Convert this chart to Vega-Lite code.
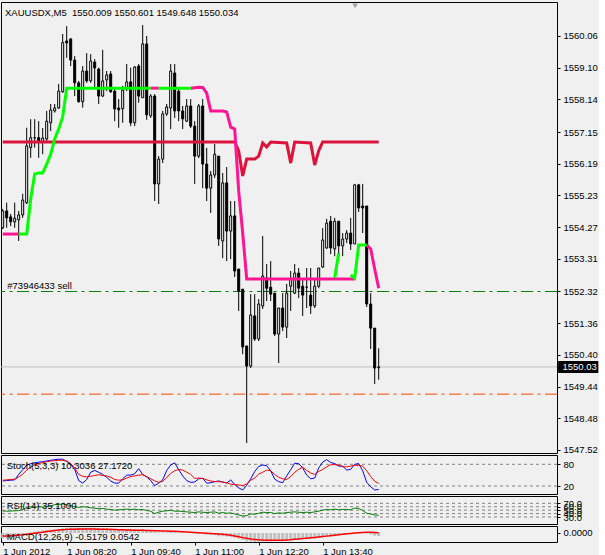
{
  "$schema": "https://vega.github.io/schema/vega-lite/v6.json",
  "padding": {"left": -4, "top": 1, "right": 0, "bottom": 0},
  "bounds": "flush",
  "spacing": 2,
  "background": "#f0f0f0",
  "datasets": {
    "candles": [
      {"i":0,"o":1554.25,"h":1554.82,"l":1554.21,"c":1554.76},
      {"i":1,"o":1554.76,"h":1555.01,"l":1554.25,"c":1554.55},
      {"i":2,"o":1554.58,"h":1554.67,"l":1554.30,"c":1554.43},
      {"i":3,"o":1554.43,"h":1555.01,"l":1554.25,"c":1554.54},
      {"i":4,"o":1554.49,"h":1554.76,"l":1553.85,"c":1554.64},
      {"i":5,"o":1554.64,"h":1555.28,"l":1554.55,"c":1555.09},
      {"i":6,"o":1555.01,"h":1557.28,"l":1554.97,"c":1556.73},
      {"i":7,"o":1556.68,"h":1557.54,"l":1556.37,"c":1556.98},
      {"i":8,"o":1556.97,"h":1557.54,"l":1556.68,"c":1556.98},
      {"i":9,"o":1556.98,"h":1557.48,"l":1556.37,"c":1556.88},
      {"i":10,"o":1556.83,"h":1557.27,"l":1556.48,"c":1556.97},
      {"i":11,"o":1556.94,"h":1557.79,"l":1556.88,"c":1557.48},
      {"i":12,"o":1557.43,"h":1558.00,"l":1557.18,"c":1557.82},
      {"i":13,"o":1557.79,"h":1558.00,"l":1557.74,"c":1557.88},
      {"i":14,"o":1557.88,"h":1558.61,"l":1557.85,"c":1558.39},
      {"i":15,"o":1558.37,"h":1560.12,"l":1558.34,"c":1559.86},
      {"i":16,"o":1559.91,"h":1560.36,"l":1559.40,"c":1559.85},
      {"i":17,"o":1559.97,"h":1560.00,"l":1559.15,"c":1559.33},
      {"i":18,"o":1559.33,"h":1559.45,"l":1558.24,"c":1558.64},
      {"i":19,"o":1558.64,"h":1558.70,"l":1558.04,"c":1558.07},
      {"i":20,"o":1558.07,"h":1559.15,"l":1557.89,"c":1559.00},
      {"i":21,"o":1559.00,"h":1559.54,"l":1558.64,"c":1558.70},
      {"i":22,"o":1558.70,"h":1559.51,"l":1558.64,"c":1559.30},
      {"i":23,"o":1559.27,"h":1559.36,"l":1558.49,"c":1559.09},
      {"i":24,"o":1559.06,"h":1559.10,"l":1558.00,"c":1558.24},
      {"i":25,"o":1558.24,"h":1559.64,"l":1558.21,"c":1558.70},
      {"i":26,"o":1558.73,"h":1559.00,"l":1558.39,"c":1558.88},
      {"i":27,"o":1558.91,"h":1559.00,"l":1558.34,"c":1558.37},
      {"i":28,"o":1558.39,"h":1558.49,"l":1557.48,"c":1557.85},
      {"i":29,"o":1557.88,"h":1558.15,"l":1557.28,"c":1557.82},
      {"i":30,"o":1557.86,"h":1558.55,"l":1557.43,"c":1558.42},
      {"i":31,"o":1558.45,"h":1559.21,"l":1558.39,"c":1558.67},
      {"i":32,"o":1558.67,"h":1559.10,"l":1557.33,"c":1557.43},
      {"i":33,"o":1557.43,"h":1559.15,"l":1557.33,"c":1559.12},
      {"i":34,"o":1559.15,"h":1559.21,"l":1558.04,"c":1558.24},
      {"i":35,"o":1558.19,"h":1560.39,"l":1558.18,"c":1559.82},
      {"i":36,"o":1559.82,"h":1560.06,"l":1557.52,"c":1557.67},
      {"i":37,"o":1557.64,"h":1558.30,"l":1557.58,"c":1558.24},
      {"i":38,"o":1558.24,"h":1558.30,"l":1555.06,"c":1555.58},
      {"i":39,"o":1555.58,"h":1556.42,"l":1554.97,"c":1556.33},
      {"i":40,"o":1556.33,"h":1557.79,"l":1556.21,"c":1557.70},
      {"i":41,"o":1557.70,"h":1558.00,"l":1557.64,"c":1557.91},
      {"i":42,"o":1557.88,"h":1559.21,"l":1557.24,"c":1559.00},
      {"i":43,"o":1558.94,"h":1559.21,"l":1557.58,"c":1557.79},
      {"i":44,"o":1558.39,"h":1558.48,"l":1557.48,"c":1557.79},
      {"i":45,"o":1557.79,"h":1557.94,"l":1557.24,"c":1557.55},
      {"i":46,"o":1557.48,"h":1558.15,"l":1557.45,"c":1557.94},
      {"i":47,"o":1557.94,"h":1558.15,"l":1557.27,"c":1557.33},
      {"i":48,"o":1557.33,"h":1557.48,"l":1555.58,"c":1556.42},
      {"i":49,"o":1556.42,"h":1558.00,"l":1556.36,"c":1557.94},
      {"i":50,"o":1557.94,"h":1558.15,"l":1555.45,"c":1556.18},
      {"i":51,"o":1556.18,"h":1556.67,"l":1555.06,"c":1555.45},
      {"i":52,"o":1555.45,"h":1555.97,"l":1554.70,"c":1555.85},
      {"i":53,"o":1555.85,"h":1556.79,"l":1555.76,"c":1556.48},
      {"i":54,"o":1556.42,"h":1556.42,"l":1553.70,"c":1553.91},
      {"i":55,"o":1553.85,"h":1555.91,"l":1553.33,"c":1555.61},
      {"i":56,"o":1555.61,"h":1556.09,"l":1553.24,"c":1554.15},
      {"i":57,"o":1554.15,"h":1555.06,"l":1553.30,"c":1554.61},
      {"i":58,"o":1554.61,"h":1555.06,"l":1552.76,"c":1552.94},
      {"i":59,"o":1553.00,"h":1553.00,"l":1551.73,"c":1552.33},
      {"i":60,"o":1552.39,"h":1552.39,"l":1550.42,"c":1550.64},
      {"i":61,"o":1550.67,"h":1550.67,"l":1547.73,"c":1550.06},
      {"i":62,"o":1550.06,"h":1552.24,"l":1550.00,"c":1551.61},
      {"i":63,"o":1551.58,"h":1552.24,"l":1550.82,"c":1550.88},
      {"i":64,"o":1550.88,"h":1552.09,"l":1550.82,"c":1551.94},
      {"i":65,"o":1551.88,"h":1554.00,"l":1551.79,"c":1552.79},
      {"i":66,"o":1552.73,"h":1553.15,"l":1552.03,"c":1552.42},
      {"i":67,"o":1552.45,"h":1553.24,"l":1552.03,"c":1552.24},
      {"i":68,"o":1552.27,"h":1552.27,"l":1550.97,"c":1551.03},
      {"i":69,"o":1551.03,"h":1551.82,"l":1550.15,"c":1551.82},
      {"i":70,"o":1551.82,"h":1552.27,"l":1551.12,"c":1551.24},
      {"i":71,"o":1551.24,"h":1552.55,"l":1550.91,"c":1552.27},
      {"i":72,"o":1552.48,"h":1552.94,"l":1551.73,"c":1552.70},
      {"i":73,"o":1552.27,"h":1553.15,"l":1552.24,"c":1552.88},
      {"i":74,"o":1552.88,"h":1553.03,"l":1552.12,"c":1552.42},
      {"i":75,"o":1552.48,"h":1552.73,"l":1551.58,"c":1552.21},
      {"i":76,"o":1552.45,"h":1553.03,"l":1551.82,"c":1552.45},
      {"i":77,"o":1552.21,"h":1553.03,"l":1551.64,"c":1551.88},
      {"i":78,"o":1551.88,"h":1552.73,"l":1551.82,"c":1552.48},
      {"i":79,"o":1552.48,"h":1553.03,"l":1552.42,"c":1553.03},
      {"i":80,"o":1553.06,"h":1554.24,"l":1553.03,"c":1553.88},
      {"i":81,"o":1553.64,"h":1554.52,"l":1553.61,"c":1554.39},
      {"i":82,"o":1554.45,"h":1554.61,"l":1553.45,"c":1553.64},
      {"i":83,"o":1553.61,"h":1554.55,"l":1553.39,"c":1554.45},
      {"i":84,"o":1554.45,"h":1554.45,"l":1553.33,"c":1553.70},
      {"i":85,"o":1553.70,"h":1554.09,"l":1553.39,"c":1553.91},
      {"i":86,"o":1553.91,"h":1554.18,"l":1553.79,"c":1554.09},
      {"i":87,"o":1554.09,"h":1554.55,"l":1553.58,"c":1553.76},
      {"i":88,"o":1553.76,"h":1555.58,"l":1553.76,"c":1555.55},
      {"i":89,"o":1555.55,"h":1555.58,"l":1554.73,"c":1554.85},
      {"i":90,"o":1554.91,"h":1555.58,"l":1554.09,"c":1554.85},
      {"i":91,"o":1554.91,"h":1554.91,"l":1551.85,"c":1551.94},
      {"i":92,"o":1551.94,"h":1552.27,"l":1550.58,"c":1551.21},
      {"i":93,"o":1551.21,"h":1551.21,"l":1549.52,"c":1550.00},
      {"i":94,"o":1550.009,"h":1550.601,"l":1549.648,"c":1550.034}
    ],
    "crimson": [
      {"i":0,"v":1556.85},{"i":58,"v":1556.85},{"i":59,"v":1556.58},{"i":60,"v":1555.82},
      {"i":61,"v":1556.33},{"i":63,"v":1556.33},{"i":64,"v":1556.42},{"i":65,"v":1556.82},
      {"i":66,"v":1556.70},{"i":67,"v":1556.85},{"i":71,"v":1556.82},{"i":72,"v":1556.21},
      {"i":73,"v":1556.85},{"i":77,"v":1556.82},{"i":78,"v":1556.15},{"i":79,"v":1556.58},
      {"i":80,"v":1556.85},{"i":94,"v":1556.85}
    ],
    "trend": [
      {"seg":"p1","col":"pink","i":0,"v":1554.06},{"seg":"p1","col":"pink","i":4,"v":1554.06},
      {"seg":"l1","col":"lime","i":4,"v":1554.06},{"seg":"l1","col":"lime","i":5,"v":1554.06},
      {"seg":"l1","col":"lime","i":6,"v":1554.06},{"seg":"l1","col":"lime","i":7,"v":1555.12},
      {"seg":"l1","col":"lime","i":8,"v":1555.88},{"seg":"l1","col":"lime","i":9,"v":1555.91},
      {"seg":"l1","col":"lime","i":10,"v":1555.91},{"seg":"l1","col":"lime","i":11,"v":1556.18},
      {"seg":"l1","col":"lime","i":12,"v":1556.48},{"seg":"l1","col":"lime","i":13,"v":1556.94},
      {"seg":"l1","col":"lime","i":14,"v":1557.24},{"seg":"l1","col":"lime","i":15,"v":1557.61},
      {"seg":"l1","col":"lime","i":16,"v":1558.48},{"seg":"l1","col":"lime","i":37,"v":1558.48},
      {"seg":"p2","col":"pink","i":37,"v":1558.48},{"seg":"p2","col":"pink","i":39,"v":1558.48},
      {"seg":"l2","col":"lime","i":39,"v":1558.48},{"seg":"l2","col":"lime","i":47,"v":1558.48},
      {"seg":"p3","col":"pink","i":47,"v":1558.48},{"seg":"p3","col":"pink","i":49,"v":1558.51},
      {"seg":"p3","col":"pink","i":50,"v":1558.50},{"seg":"p3","col":"pink","i":51,"v":1558.33},
      {"seg":"p3","col":"pink","i":52,"v":1557.79},{"seg":"p3","col":"pink","i":55,"v":1557.79},
      {"seg":"p3","col":"pink","i":56,"v":1557.76},{"seg":"p3","col":"pink","i":57,"v":1557.30},
      {"seg":"p3","col":"pink","i":58,"v":1557.24},{"seg":"p3","col":"pink","i":59,"v":1555.36},
      {"seg":"p3","col":"pink","i":60,"v":1554.09},{"seg":"p3","col":"pink","i":61,"v":1552.70},
      {"seg":"p3","col":"pink","i":88,"v":1552.70},
      {"seg":"l3","col":"lime","i":83,"v":1552.73},{"seg":"l3","col":"lime","i":84,"v":1553.48},
      {"seg":"l4","col":"lime","i":87,"v":1552.82},{"seg":"l4","col":"lime","i":88,"v":1552.73},
      {"seg":"l4","col":"lime","i":89,"v":1553.73},{"seg":"l4","col":"lime","i":91,"v":1553.73},
      {"seg":"p4","col":"pink","i":91,"v":1553.73},{"seg":"p4","col":"pink","i":92,"v":1553.61},
      {"seg":"p4","col":"pink","i":93,"v":1553.00},{"seg":"p4","col":"pink","i":94,"v":1552.42}
    ],
    "ind": [
      {"i":0,"k":34,"d":36,"r":47.5,"m":-0.9,"s":-0.52},
      {"i":1,"k":35,"d":37,"r":47,"m":-0.85,"s":-0.5},
      {"i":2,"k":36,"d":38,"r":47.5,"m":-0.8,"s":-0.46},
      {"i":3,"k":37,"d":39,"r":48,"m":-0.75,"s":-0.42},
      {"i":4,"k":52,"d":45,"r":49,"m":-0.6,"s":-0.36},
      {"i":5,"k":65,"d":53,"r":52,"m":-0.4,"s":-0.3},
      {"i":6,"k":77,"d":64,"r":58,"m":-0.1,"s":-0.22},
      {"i":7,"k":82,"d":72,"r":60,"m":0.1,"s":-0.14},
      {"i":8,"k":84,"d":78,"r":59,"m":0.25,"s":-0.06},
      {"i":9,"k":86,"d":82,"r":60,"m":0.35,"s":0.02},
      {"i":10,"k":87,"d":85,"r":59,"m":0.45,"s":0.12},
      {"i":11,"k":89,"d":87,"r":61,"m":0.5,"s":0.24},
      {"i":12,"k":91,"d":89,"r":62,"m":0.55,"s":0.34},
      {"i":13,"k":93,"d":90,"r":66,"m":0.6,"s":0.42},
      {"i":14,"k":94,"d":91,"r":67,"m":0.65,"s":0.5},
      {"i":15,"k":94,"d":91,"r":68,"m":0.8,"s":0.56},
      {"i":16,"k":88,"d":89,"r":66,"m":0.9,"s":0.62},
      {"i":17,"k":80,"d":82,"r":63,"m":0.95,"s":0.64},
      {"i":18,"k":66,"d":70,"r":60,"m":0.95,"s":0.66},
      {"i":19,"k":35,"d":52,"r":58,"m":0.9,"s":0.68},
      {"i":20,"k":28,"d":47,"r":60,"m":0.9,"s":0.68},
      {"i":21,"k":38,"d":45,"r":59,"m":0.9,"s":0.68},
      {"i":22,"k":58,"d":47,"r":57,"m":0.9,"s":0.68},
      {"i":23,"k":63,"d":49,"r":56,"m":0.9,"s":0.67},
      {"i":24,"k":58,"d":51,"r":54,"m":0.85,"s":0.66},
      {"i":25,"k":52,"d":49,"r":55,"m":0.82,"s":0.65},
      {"i":26,"k":44,"d":48,"r":53,"m":0.8,"s":0.63},
      {"i":27,"k":34,"d":44,"r":52,"m":0.78,"s":0.61},
      {"i":28,"k":28,"d":38,"r":50,"m":0.72,"s":0.59},
      {"i":29,"k":28,"d":36,"r":51,"m":0.66,"s":0.57},
      {"i":30,"k":40,"d":37,"r":52,"m":0.62,"s":0.55},
      {"i":31,"k":50,"d":42,"r":53,"m":0.62,"s":0.52},
      {"i":32,"k":50,"d":46,"r":52,"m":0.55,"s":0.5},
      {"i":33,"k":54,"d":48,"r":53,"m":0.58,"s":0.48},
      {"i":34,"k":68,"d":50,"r":51,"m":0.55,"s":0.46},
      {"i":35,"k":52,"d":51,"r":52,"m":0.62,"s":0.45},
      {"i":36,"k":45,"d":46,"r":49,"m":0.5,"s":0.44},
      {"i":37,"k":35,"d":40,"r":47,"m":0.45,"s":0.42},
      {"i":38,"k":21,"d":34,"r":40,"m":0.25,"s":0.4},
      {"i":39,"k":28,"d":30,"r":44,"m":0.15,"s":0.37},
      {"i":40,"k":37,"d":33,"r":47,"m":0.12,"s":0.35},
      {"i":41,"k":63,"d":43,"r":48,"m":0.12,"s":0.33},
      {"i":42,"k":78,"d":55,"r":50,"m":0.2,"s":0.31},
      {"i":43,"k":84,"d":62,"r":47,"m":0.18,"s":0.28},
      {"i":44,"k":65,"d":66,"r":47,"m":0.12,"s":0.25},
      {"i":45,"k":48,"d":64,"r":46,"m":0.08,"s":0.22},
      {"i":46,"k":35,"d":58,"r":45,"m":0.05,"s":0.18},
      {"i":47,"k":30,"d":52,"r":44,"m":0.0,"s":0.13},
      {"i":48,"k":31,"d":41,"r":43,"m":-0.08,"s":0.08},
      {"i":49,"k":40,"d":42,"r":45,"m":-0.06,"s":0.04},
      {"i":50,"k":41,"d":41,"r":44,"m":-0.15,"s":0.0},
      {"i":51,"k":28,"d":37,"r":43,"m":-0.28,"s":-0.04},
      {"i":52,"k":29,"d":34,"r":44,"m":-0.35,"s":-0.08},
      {"i":53,"k":32,"d":32,"r":45,"m":-0.35,"s":-0.12},
      {"i":54,"k":34,"d":32,"r":41,"m":-0.55,"s":-0.16},
      {"i":55,"k":31,"d":31,"r":43,"m":-0.55,"s":-0.22},
      {"i":56,"k":28,"d":29,"r":41,"m":-0.62,"s":-0.3},
      {"i":57,"k":37,"d":25,"r":42,"m":-0.65,"s":-0.4},
      {"i":58,"k":24,"d":24,"r":39,"m":-0.8,"s":-0.52},
      {"i":59,"k":15,"d":23,"r":36,"m":-0.95,"s":-0.66},
      {"i":60,"k":9,"d":21,"r":33,"m":-1.2,"s":-0.8},
      {"i":61,"k":22,"d":26,"r":34,"m":-1.45,"s":-0.92},
      {"i":62,"k":40,"d":36,"r":39,"m":-1.45,"s":-1.02},
      {"i":63,"k":60,"d":42,"r":38,"m":-1.5,"s":-1.1},
      {"i":64,"k":74,"d":53,"r":41,"m":-1.5,"s":-1.17},
      {"i":65,"k":78,"d":58,"r":44,"m":-1.45,"s":-1.22},
      {"i":66,"k":76,"d":64,"r":43,"m":-1.42,"s":-1.25},
      {"i":67,"k":62,"d":62,"r":43,"m":-1.4,"s":-1.27},
      {"i":68,"k":39,"d":52,"r":40,"m":-1.42,"s":-1.27},
      {"i":69,"k":32,"d":44,"r":42,"m":-1.4,"s":-1.26},
      {"i":70,"k":29,"d":40,"r":41,"m":-1.38,"s":-1.24},
      {"i":71,"k":48,"d":38,"r":43,"m":-1.3,"s":-1.2},
      {"i":72,"k":65,"d":46,"r":44,"m":-1.22,"s":-1.15},
      {"i":73,"k":83,"d":58,"r":45,"m":-1.15,"s":-1.08},
      {"i":74,"k":82,"d":66,"r":44,"m":-1.1,"s":-1.02},
      {"i":75,"k":70,"d":72,"r":43,"m":-1.05,"s":-0.96},
      {"i":76,"k":50,"d":63,"r":44,"m":-1.0,"s":-0.9},
      {"i":77,"k":40,"d":56,"r":43,"m":-0.98,"s":-0.84},
      {"i":78,"k":42,"d":52,"r":45,"m":-0.95,"s":-0.77},
      {"i":79,"k":70,"d":60,"r":47,"m":-0.85,"s":-0.7},
      {"i":80,"k":86,"d":66,"r":50,"m":-0.7,"s":-0.62},
      {"i":81,"k":93,"d":73,"r":52,"m":-0.55,"s":-0.54},
      {"i":82,"k":85,"d":79,"r":51,"m":-0.45,"s":-0.46},
      {"i":83,"k":82,"d":79,"r":53,"m":-0.38,"s":-0.38},
      {"i":84,"k":75,"d":78,"r":51,"m":-0.32,"s":-0.3},
      {"i":85,"k":75,"d":73,"r":52,"m":-0.28,"s":-0.22},
      {"i":86,"k":64,"d":73,"r":52,"m":-0.22,"s":-0.15},
      {"i":87,"k":66,"d":75,"r":51,"m":-0.2,"s":-0.08},
      {"i":88,"k":80,"d":77,"r":56,"m":0.05,"s":-0.02},
      {"i":89,"k":82,"d":77,"r":55,"m":0.12,"s":0.04},
      {"i":90,"k":62,"d":75,"r":49,"m":0.15,"s":0.1},
      {"i":91,"k":30,"d":62,"r":41,"m":-0.1,"s":0.14},
      {"i":92,"k":18,"d":46,"r":39,"m":-0.28,"s":0.12},
      {"i":93,"k":9,"d":33,"r":36,"m":-0.45,"s":0.08},
      {"i":94,"k":10.3036,"d":27.172,"r":35.1,"m":-0.5179,"s":0.0542}
    ]
  },
  "vconcat": [
    {
      "width": 556,
      "height": 451,
      "layer": [
        {
          "data": {"values": [{"p": 1550.034}]},
          "mark": {"type": "rule", "color": "#c0c0c0", "strokeWidth": 1},
          "encoding": {
            "y": {"field": "p", "type": "quantitative", "scale": {"domain": [1547.427, 1561.09], "nice": false, "zero": false, "padding": 0},
              "axis": {"orient": "right", "title": null, "domain": false, "grid": false, "tickSize": 3, "labelPadding": 3, "format": ".2f", "labelOverlap": false, "values": [1560.06, 1559.10, 1558.14, 1557.15, 1556.19, 1555.23, 1554.27, 1553.31, 1552.32, 1551.36, 1550.40, 1549.44, 1548.48, 1547.52]}}
          }
        },
        {
          "data": {"values": [{"p": 1552.32}]},
          "mark": {"type": "rule", "color": "#008000", "strokeWidth": 1, "strokeDash": [12, 4.5, 3, 4.5]},
          "encoding": {
            "y": {"field": "p", "type": "quantitative", "scale": {"domain": [1547.427, 1561.09], "nice": false, "zero": false, "padding": 0},
              "axis": {"orient": "right", "title": null, "domain": false, "grid": false, "tickSize": 3, "labelPadding": 3, "format": ".2f", "labelOverlap": false, "values": [1560.06, 1559.10, 1558.14, 1557.15, 1556.19, 1555.23, 1554.27, 1553.31, 1552.32, 1551.36, 1550.40, 1549.44, 1548.48, 1547.52]}}
          }
        },
        {
          "data": {"values": [{"p": 1549.21}]},
          "mark": {"type": "rule", "color": "#FF4500", "strokeWidth": 1, "strokeDash": [12, 4.5, 3, 4.5]},
          "encoding": {
            "y": {"field": "p", "type": "quantitative", "scale": {"domain": [1547.427, 1561.09], "nice": false, "zero": false, "padding": 0},
              "axis": {"orient": "right", "title": null, "domain": false, "grid": false, "tickSize": 3, "labelPadding": 3, "format": ".2f", "labelOverlap": false, "values": [1560.06, 1559.10, 1558.14, 1557.15, 1556.19, 1555.23, 1554.27, 1553.31, 1552.32, 1551.36, 1550.40, 1549.44, 1548.48, 1547.52]}}
          }
        },
        {
          "data": {"name": "candles"},
          "mark": {"type": "rule", "color": "#000000", "strokeWidth": 1},
          "encoding": {
            "x": {"field": "i", "type": "quantitative", "scale": {"domain": [-0.425, 138.575], "nice": false, "zero": false, "padding": 0}, "axis": null},
            "y": {"field": "l", "type": "quantitative", "scale": {"domain": [1547.427, 1561.09], "nice": false, "zero": false, "padding": 0},
              "axis": {"orient": "right", "title": null, "domain": false, "grid": false, "tickSize": 3, "labelPadding": 3, "format": ".2f", "labelOverlap": false, "values": [1560.06, 1559.10, 1558.14, 1557.15, 1556.19, 1555.23, 1554.27, 1553.31, 1552.32, 1551.36, 1550.40, 1549.44, 1548.48, 1547.52]}},
            "y2": {"field": "h"}
          }
        },
        {
          "data": {"name": "candles"},
          "mark": {"type": "bar", "width": 2, "stroke": "#000000", "strokeWidth": 1, "orient": "vertical"},
          "encoding": {
            "x": {"field": "i", "type": "quantitative", "scale": {"domain": [-0.425, 138.575], "nice": false, "zero": false, "padding": 0}, "axis": null},
            "y": {"field": "o", "type": "quantitative", "scale": {"domain": [1547.427, 1561.09], "nice": false, "zero": false, "padding": 0},
              "axis": {"orient": "right", "title": null, "domain": false, "grid": false, "tickSize": 3, "labelPadding": 3, "format": ".2f", "labelOverlap": false, "values": [1560.06, 1559.10, 1558.14, 1557.15, 1556.19, 1555.23, 1554.27, 1553.31, 1552.32, 1551.36, 1550.40, 1549.44, 1548.48, 1547.52]}},
            "y2": {"field": "c"},
            "fill": {"condition": {"test": "datum.c >= datum.o", "value": "#ffffff"}, "value": "#000000"}
          }
        },
        {
          "data": {"name": "crimson"},
          "mark": {"type": "line", "color": "#DC143C", "strokeWidth": 3},
          "encoding": {
            "x": {"field": "i", "type": "quantitative", "scale": {"domain": [-0.425, 138.575], "nice": false, "zero": false, "padding": 0}, "axis": null},
            "y": {"field": "v", "type": "quantitative", "scale": {"domain": [1547.427, 1561.09], "nice": false, "zero": false, "padding": 0},
              "axis": {"orient": "right", "title": null, "domain": false, "grid": false, "tickSize": 3, "labelPadding": 3, "format": ".2f", "labelOverlap": false, "values": [1560.06, 1559.10, 1558.14, 1557.15, 1556.19, 1555.23, 1554.27, 1553.31, 1552.32, 1551.36, 1550.40, 1549.44, 1548.48, 1547.52]}}
          }
        },
        {
          "data": {"name": "trend"},
          "transform": [{"filter": "datum.col == 'pink'"}],
          "mark": {"type": "line", "color": "#FF1493", "strokeWidth": 3},
          "encoding": {
            "x": {"field": "i", "type": "quantitative", "scale": {"domain": [-0.425, 138.575], "nice": false, "zero": false, "padding": 0}, "axis": null},
            "y": {"field": "v", "type": "quantitative", "scale": {"domain": [1547.427, 1561.09], "nice": false, "zero": false, "padding": 0},
              "axis": {"orient": "right", "title": null, "domain": false, "grid": false, "tickSize": 3, "labelPadding": 3, "format": ".2f", "labelOverlap": false, "values": [1560.06, 1559.10, 1558.14, 1557.15, 1556.19, 1555.23, 1554.27, 1553.31, 1552.32, 1551.36, 1550.40, 1549.44, 1548.48, 1547.52]}},
            "detail": {"field": "seg"}
          }
        },
        {
          "data": {"name": "trend"},
          "transform": [{"filter": "datum.col == 'lime'"}],
          "mark": {"type": "line", "color": "#00FF00", "strokeWidth": 3},
          "encoding": {
            "x": {"field": "i", "type": "quantitative", "scale": {"domain": [-0.425, 138.575], "nice": false, "zero": false, "padding": 0}, "axis": null},
            "y": {"field": "v", "type": "quantitative", "scale": {"domain": [1547.427, 1561.09], "nice": false, "zero": false, "padding": 0},
              "axis": {"orient": "right", "title": null, "domain": false, "grid": false, "tickSize": 3, "labelPadding": 3, "format": ".2f", "labelOverlap": false, "values": [1560.06, 1559.10, 1558.14, 1557.15, 1556.19, 1555.23, 1554.27, 1553.31, 1552.32, 1551.36, 1550.40, 1549.44, 1548.48, 1547.52]}},
            "detail": {"field": "seg"}
          }
        },
        {
          "data": {"values": [{}]},
          "mark": {"type": "text", "text": "XAUUSDX,M5\u00a0 1550.009 1550.601 1549.648 1550.034", "align": "left", "baseline": "alphabetic", "color": "#000000"},
          "encoding": {
            "x": {"datum": 0.575, "type": "quantitative", "scale": {"domain": [-0.425, 138.575], "nice": false, "zero": false, "padding": 0}, "axis": null},
            "y": {"datum": 1560.67, "type": "quantitative", "scale": {"domain": [1547.427, 1561.09], "nice": false, "zero": false, "padding": 0},
              "axis": {"orient": "right", "title": null, "domain": false, "grid": false, "tickSize": 3, "labelPadding": 3, "format": ".2f", "labelOverlap": false, "values": [1560.06, 1559.10, 1558.14, 1557.15, 1556.19, 1555.23, 1554.27, 1553.31, 1552.32, 1551.36, 1550.40, 1549.44, 1548.48, 1547.52]}}
          }
        },
        {
          "data": {"values": [{}]},
          "mark": {"type": "text", "text": "#73946433 sell", "align": "left", "baseline": "alphabetic", "color": "#000000"},
          "encoding": {
            "x": {"datum": 1.15, "type": "quantitative", "scale": {"domain": [-0.425, 138.575], "nice": false, "zero": false, "padding": 0}, "axis": null},
            "y": {"datum": 1552.40, "type": "quantitative", "scale": {"domain": [1547.427, 1561.09], "nice": false, "zero": false, "padding": 0},
              "axis": {"orient": "right", "title": null, "domain": false, "grid": false, "tickSize": 3, "labelPadding": 3, "format": ".2f", "labelOverlap": false, "values": [1560.06, 1559.10, 1558.14, 1557.15, 1556.19, 1555.23, 1554.27, 1553.31, 1552.32, 1551.36, 1550.40, 1549.44, 1548.48, 1547.52]}}
          }
        },
        {
          "data": {"values": [{}]},
          "mark": {"type": "point", "shape": "triangle-down", "size": 30, "filled": true, "color": "#a0a0a0", "opacity": 1},
          "encoding": {
            "x": {"datum": 88.1, "type": "quantitative", "scale": {"domain": [-0.425, 138.575], "nice": false, "zero": false, "padding": 0}, "axis": null},
            "y": {"datum": 1560.97, "type": "quantitative", "scale": {"domain": [1547.427, 1561.09], "nice": false, "zero": false, "padding": 0},
              "axis": {"orient": "right", "title": null, "domain": false, "grid": false, "tickSize": 3, "labelPadding": 3, "format": ".2f", "labelOverlap": false, "values": [1560.06, 1559.10, 1558.14, 1557.15, 1556.19, 1555.23, 1554.27, 1553.31, 1552.32, 1551.36, 1550.40, 1549.44, 1548.48, 1547.52]}}
          }
        },
        {
          "data": {"values": [{}]},
          "mark": {"type": "rect", "color": "#000000"},
          "encoding": {
            "x": {"datum": 138.85, "type": "quantitative", "scale": {"domain": [-0.425, 138.575], "nice": false, "zero": false, "padding": 0}, "axis": null},
            "x2": {"datum": 148.9},
            "y": {"datum": 1550.214, "type": "quantitative", "scale": {"domain": [1547.427, 1561.09], "nice": false, "zero": false, "padding": 0},
              "axis": {"orient": "right", "title": null, "domain": false, "grid": false, "tickSize": 3, "labelPadding": 3, "format": ".2f", "labelOverlap": false, "values": [1560.06, 1559.10, 1558.14, 1557.15, 1556.19, 1555.23, 1554.27, 1553.31, 1552.32, 1551.36, 1550.40, 1549.44, 1548.48, 1547.52]}},
            "y2": {"datum": 1549.854}
          }
        },
        {
          "data": {"values": [{}]},
          "mark": {"type": "text", "text": "1550.03", "align": "left", "baseline": "middle", "color": "#ffffff"},
          "encoding": {
            "x": {"datum": 139.95, "type": "quantitative", "scale": {"domain": [-0.425, 138.575], "nice": false, "zero": false, "padding": 0}, "axis": null},
            "y": {"datum": 1550.034, "type": "quantitative", "scale": {"domain": [1547.427, 1561.09], "nice": false, "zero": false, "padding": 0},
              "axis": {"orient": "right", "title": null, "domain": false, "grid": false, "tickSize": 3, "labelPadding": 3, "format": ".2f", "labelOverlap": false, "values": [1560.06, 1559.10, 1558.14, 1557.15, 1556.19, 1555.23, 1554.27, 1553.31, 1552.32, 1551.36, 1550.40, 1549.44, 1548.48, 1547.52]}}
          }
        }
      ]
    },
    {
      "width": 556,
      "height": 39,
      "layer": [
        {
          "data": {"values": [{"v": 80}, {"v": 20}]},
          "mark": {"type": "rule", "color": "#808080", "strokeWidth": 1, "strokeDash": [3, 3]},
          "encoding": {
            "y": {"field": "v", "type": "quantitative", "scale": {"domain": [-2.1, 105.7], "nice": false, "zero": false, "padding": 0},
              "axis": {"orient": "right", "title": null, "domain": false, "grid": false, "tickSize": 3, "labelPadding": 3, "values": [80, 20], "format": "d", "labelOverlap": false}}
          }
        },
        {
          "data": {"name": "ind"},
          "mark": {"type": "line", "color": "#0000FF", "strokeWidth": 1},
          "encoding": {
            "x": {"field": "i", "type": "quantitative", "scale": {"domain": [-0.425, 138.575], "nice": false, "zero": false, "padding": 0}, "axis": null},
            "y": {"field": "k", "type": "quantitative", "scale": {"domain": [-2.1, 105.7], "nice": false, "zero": false, "padding": 0},
              "axis": {"orient": "right", "title": null, "domain": false, "grid": false, "tickSize": 3, "labelPadding": 3, "values": [80, 20], "format": "d", "labelOverlap": false}}
          }
        },
        {
          "data": {"name": "ind"},
          "mark": {"type": "line", "color": "#FF0000", "strokeWidth": 1},
          "encoding": {
            "x": {"field": "i", "type": "quantitative", "scale": {"domain": [-0.425, 138.575], "nice": false, "zero": false, "padding": 0}, "axis": null},
            "y": {"field": "d", "type": "quantitative", "scale": {"domain": [-2.1, 105.7], "nice": false, "zero": false, "padding": 0},
              "axis": {"orient": "right", "title": null, "domain": false, "grid": false, "tickSize": 3, "labelPadding": 3, "values": [80, 20], "format": "d", "labelOverlap": false}}
          }
        },
        {
          "data": {"values": [{}]},
          "mark": {"type": "text", "text": "Stoch(5,3,3) 10.3036 27.1720", "align": "left", "baseline": "middle", "color": "#000000"},
          "encoding": {
            "x": {"datum": 1.0, "type": "quantitative", "scale": {"domain": [-0.425, 138.575], "nice": false, "zero": false, "padding": 0}, "axis": null},
            "y": {"datum": 75, "type": "quantitative", "scale": {"domain": [-2.1, 105.7], "nice": false, "zero": false, "padding": 0},
              "axis": {"orient": "right", "title": null, "domain": false, "grid": false, "tickSize": 3, "labelPadding": 3, "values": [80, 20], "format": "d", "labelOverlap": false}}
          }
        }
      ]
    },
    {
      "width": 556,
      "height": 28,
      "layer": [
        {
          "data": {"values": [{"v": 70}, {"v": 60}, {"v": 50}, {"v": 40}, {"v": 30}]},
          "mark": {"type": "rule", "color": "#808080", "strokeWidth": 1, "strokeDash": [3, 3]},
          "encoding": {
            "y": {"field": "v", "type": "quantitative", "scale": {"domain": [9.6, 91.3], "nice": false, "zero": false, "padding": 0},
              "axis": {"orient": "right", "title": null, "domain": false, "grid": false, "tickSize": 3, "labelPadding": 3, "values": [70, 60, 50, 40, 30], "format": ".1f", "labelOverlap": false}}
          }
        },
        {
          "data": {"name": "ind"},
          "mark": {"type": "line", "color": "#008000", "strokeWidth": 1},
          "encoding": {
            "x": {"field": "i", "type": "quantitative", "scale": {"domain": [-0.425, 138.575], "nice": false, "zero": false, "padding": 0}, "axis": null},
            "y": {"field": "r", "type": "quantitative", "scale": {"domain": [9.6, 91.3], "nice": false, "zero": false, "padding": 0},
              "axis": {"orient": "right", "title": null, "domain": false, "grid": false, "tickSize": 3, "labelPadding": 3, "values": [70, 60, 50, 40, 30], "format": ".1f", "labelOverlap": false}}
          }
        },
        {
          "data": {"values": [{}]},
          "mark": {"type": "text", "text": "RSI(14) 35.1000", "align": "left", "baseline": "middle", "color": "#000000"},
          "encoding": {
            "x": {"datum": 1.0, "type": "quantitative", "scale": {"domain": [-0.425, 138.575], "nice": false, "zero": false, "padding": 0}, "axis": null},
            "y": {"datum": 62, "type": "quantitative", "scale": {"domain": [9.6, 91.3], "nice": false, "zero": false, "padding": 0},
              "axis": {"orient": "right", "title": null, "domain": false, "grid": false, "tickSize": 3, "labelPadding": 3, "values": [70, 60, 50, 40, 30], "format": ".1f", "labelOverlap": false}}
          }
        }
      ]
    },
    {
      "width": 556,
      "height": 16,
      "layer": [
        {
          "data": {"name": "ind"},
          "mark": {"type": "bar", "width": 3, "color": "#c0c0c0", "orient": "vertical"},
          "encoding": {
            "x": {"field": "i", "type": "quantitative", "scale": {"domain": [-0.425, 138.575], "nice": false, "zero": false, "padding": 0},
              "axis": {"orient": "bottom", "title": null, "domain": false, "grid": false, "tickSize": 3, "labelPadding": 1, "labelAlign": "left", "labelBaseline": "top", "labelFlush": false, "labelOverlap": false, "values": [0, 16, 32, 48, 64, 80],
                "labelExpr": "datum.value == 0 ? '1 Jun 2012' : datum.value == 16 ? '1 Jun 08:20' : datum.value == 32 ? '1 Jun 09:40' : datum.value == 48 ? '1 Jun 11:00' : datum.value == 64 ? '1 Jun 12:20' : '1 Jun 13:40'"}},
            "y": {"field": "m", "type": "quantitative", "scale": {"domain": [-1.55, 1.2], "nice": false, "zero": false, "padding": 0},
              "axis": {"orient": "right", "title": null, "domain": false, "grid": false, "tickSize": 3, "labelPadding": 3, "values": [0], "format": ".4f", "labelOverlap": false}},
            "y2": {"datum": 0}
          }
        },
        {
          "data": {"name": "ind"},
          "mark": {"type": "line", "color": "#FF0000", "strokeWidth": 1.5},
          "encoding": {
            "x": {"field": "i", "type": "quantitative", "scale": {"domain": [-0.425, 138.575], "nice": false, "zero": false, "padding": 0},
              "axis": {"orient": "bottom", "title": null, "domain": false, "grid": false, "tickSize": 3, "labelPadding": 1, "labelAlign": "left", "labelBaseline": "top", "labelFlush": false, "labelOverlap": false, "values": [0, 16, 32, 48, 64, 80],
                "labelExpr": "datum.value == 0 ? '1 Jun 2012' : datum.value == 16 ? '1 Jun 08:20' : datum.value == 32 ? '1 Jun 09:40' : datum.value == 48 ? '1 Jun 11:00' : datum.value == 64 ? '1 Jun 12:20' : '1 Jun 13:40'"}},
            "y": {"field": "s", "type": "quantitative", "scale": {"domain": [-1.55, 1.2], "nice": false, "zero": false, "padding": 0},
              "axis": {"orient": "right", "title": null, "domain": false, "grid": false, "tickSize": 3, "labelPadding": 3, "values": [0], "format": ".4f", "labelOverlap": false}}
          }
        },
        {
          "data": {"values": [{}]},
          "mark": {"type": "text", "text": "MACD(12,26,9) -0.5179 0.0542", "align": "left", "baseline": "middle", "color": "#000000"},
          "encoding": {
            "x": {"datum": 1.0, "type": "quantitative", "scale": {"domain": [-0.425, 138.575], "nice": false, "zero": false, "padding": 0},
              "axis": {"orient": "bottom", "title": null, "domain": false, "grid": false, "tickSize": 3, "labelPadding": 1, "labelAlign": "left", "labelBaseline": "top", "labelFlush": false, "labelOverlap": false, "values": [0, 16, 32, 48, 64, 80],
                "labelExpr": "datum.value == 0 ? '1 Jun 2012' : datum.value == 16 ? '1 Jun 08:20' : datum.value == 32 ? '1 Jun 09:40' : datum.value == 48 ? '1 Jun 11:00' : datum.value == 64 ? '1 Jun 12:20' : '1 Jun 13:40'"}},
            "y": {"datum": -0.69, "type": "quantitative", "scale": {"domain": [-1.55, 1.2], "nice": false, "zero": false, "padding": 0},
              "axis": {"orient": "right", "title": null, "domain": false, "grid": false, "tickSize": 3, "labelPadding": 3, "values": [0], "format": ".4f", "labelOverlap": false}}
          }
        }
      ]
    }
  ],
  "config": {
    "view": {"stroke": "#000000", "strokeWidth": 1, "fill": "#f0f0f0"},
    "axis": {"labelFont": "Liberation Sans", "labelFontSize": 9.5, "labelColor": "#000000", "tickColor": "#000000", "domainColor": "#000000"},
    "text": {"font": "Liberation Sans", "fontSize": 9.5}
  }
}
